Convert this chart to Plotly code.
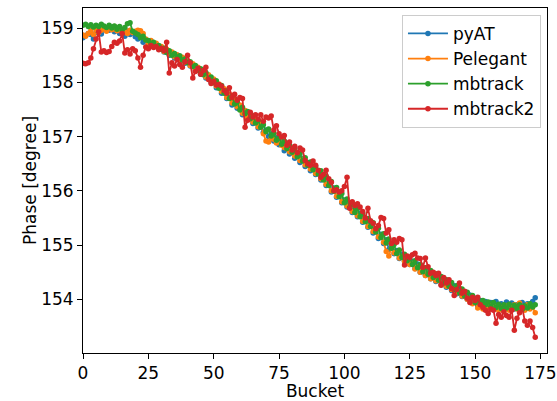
import plotly.graph_objects as go

# phase per bucket (bucket = list index)
pyat = [
    158.82, 158.86, 158.90, 158.88, 158.80, 158.92, 158.95, 158.89, 158.97, 159.00,
    158.96, 159.02, 158.93, 158.99, 158.90, 158.97, 158.85, 158.94, 158.88, 158.91,
    158.84, 158.80, 158.86, 158.74, 158.79, 158.70, 158.75, 158.66, 158.70, 158.61,
    158.64, 158.56, 158.60, 158.50, 158.55, 158.45, 158.50, 158.40, 158.44, 158.35,
    158.37, 158.30, 158.33, 158.22, 158.26, 158.15, 158.19, 158.08, 158.11, 158.00,
    158.02, 157.90, 157.95, 157.80, 157.86, 157.70, 157.76, 157.58, 157.66, 157.52,
    157.55, 157.40, 157.47, 157.32, 157.38, 157.24, 157.30, 157.16, 157.22, 157.08,
    157.12, 157.00, 157.05, 156.92, 156.98, 156.85, 156.90, 156.74, 156.83, 156.68,
    156.74, 156.60, 156.68, 156.52, 156.60, 156.45, 156.52, 156.37, 156.44, 156.30,
    156.35, 156.20, 156.25, 156.10, 156.15, 155.98, 156.05, 155.88, 155.95, 155.78,
    155.83, 155.70, 155.75, 155.60, 155.66, 155.52, 155.58, 155.42, 155.48, 155.33,
    155.39, 155.22, 155.30, 155.12, 155.20, 155.03, 155.10, 154.92, 155.00, 154.84,
    154.90, 154.75, 154.83, 154.70, 154.78, 154.64, 154.70, 154.57, 154.65, 154.50,
    154.57, 154.44, 154.51, 154.38, 154.46, 154.33, 154.41, 154.27, 154.35, 154.22,
    154.31, 154.16, 154.25, 154.10, 154.20, 154.05, 154.14, 154.00, 154.08, 153.95,
    154.02, 153.88, 153.98, 153.86, 153.96, 153.85, 153.94, 153.84, 153.96, 153.86,
    153.92, 153.83, 153.95, 153.85, 153.93, 153.82, 153.90, 153.86, 153.94, 153.88,
    153.92, 153.88, 153.96, 154.03,
]
pelegant = [
    158.87, 158.85, 158.90, 158.95, 158.88, 158.98, 158.92, 158.96, 159.00, 158.94,
    159.02, 158.97, 159.03, 158.95, 159.00, 158.93, 158.98, 158.90, 158.96, 158.92,
    158.94, 158.96, 158.95, 158.90, 158.80, 158.72, 158.77, 158.68, 158.72, 158.63,
    158.66, 158.57, 158.61, 158.52, 158.56, 158.47, 158.51, 158.42, 158.46, 158.37,
    158.39, 158.31, 158.34, 158.24, 158.28, 158.18, 158.21, 158.10, 158.14, 158.03,
    158.06, 157.93, 157.97, 157.83, 157.88, 157.72, 157.78, 157.62, 157.68, 157.55,
    157.58, 157.43, 157.48, 157.35, 157.40, 157.27, 157.32, 157.18, 157.24, 157.05,
    156.92, 156.90, 156.98, 156.95, 156.88, 156.90, 156.84, 156.80, 156.78, 156.72,
    156.70, 156.64, 156.66, 156.56, 156.58, 156.48, 156.50, 156.40, 156.42, 156.32,
    156.33, 156.22, 156.22, 156.12, 156.12, 156.00, 156.02, 155.90, 155.92, 155.80,
    155.80, 155.72, 155.72, 155.62, 155.62, 155.54, 155.54, 155.44, 155.45, 155.34,
    155.36, 155.25, 155.26, 155.15, 155.16, 155.05, 154.88, 154.80, 154.95, 154.86,
    154.86, 154.76, 154.79, 154.70, 154.72, 154.64, 154.66, 154.56, 154.60, 154.50,
    154.53, 154.44, 154.48, 154.38, 154.42, 154.34, 154.37, 154.28, 154.32, 154.24,
    154.26, 154.18, 154.20, 154.12, 154.14, 154.06, 154.08, 154.00, 154.02, 153.92,
    153.96, 153.84, 153.92, 153.82, 153.90, 153.80, 153.88, 153.82, 153.86, 153.80,
    153.85, 153.78, 153.88, 153.80, 153.84, 153.90, 153.82, 153.93, 153.86, 153.80,
    153.90, 153.82, 153.86, 153.75,
]
mbtrack = [
    159.05, 159.07, 159.03, 159.06, 159.02, 159.05, 159.03, 159.07, 159.04, 159.01,
    159.05, 159.00, 159.04, 158.98, 159.03, 158.97, 159.01, 159.08, 159.10, 158.94,
    158.91, 158.88, 158.82, 158.85, 158.78, 158.77, 158.71, 158.74, 158.66, 158.68,
    158.61, 158.63, 158.55, 158.58, 158.50, 158.53, 158.46, 158.49, 158.41, 158.43,
    158.36, 158.38, 158.29, 158.31, 158.22, 158.25, 158.14, 158.18, 158.07, 158.10,
    157.99, 158.03, 157.89, 157.94, 157.80, 157.84, 157.70, 157.74, 157.60, 157.64,
    157.49, 157.54, 157.42, 157.46, 157.33, 157.38, 157.25, 157.30, 157.17, 157.22,
    157.09, 157.14, 157.01, 157.06, 156.93, 156.98, 156.86, 156.92, 156.78, 156.84,
    156.71, 156.77, 156.63, 156.69, 156.55, 156.61, 156.47, 156.53, 156.39, 156.45,
    156.31, 156.37, 156.20, 156.27, 156.10, 156.17, 155.99, 156.06, 155.89, 155.95,
    155.78, 155.85, 155.69, 155.76, 155.60, 155.67, 155.52, 155.58, 155.43, 155.49,
    155.34, 155.41, 155.24, 155.31, 155.14, 155.21, 155.04, 155.11, 154.94, 155.01,
    154.84, 154.91, 154.77, 154.83, 154.71, 154.78, 154.64, 154.71, 154.58, 154.64,
    154.51, 154.58, 154.46, 154.53, 154.40, 154.47, 154.35, 154.42, 154.30, 154.36,
    154.24, 154.31, 154.18, 154.25, 154.12, 154.19, 154.06, 154.13, 154.00, 154.07,
    153.94, 154.00, 153.92, 153.98, 153.90, 153.95, 153.87, 153.94, 153.85, 153.91,
    153.83, 153.90, 153.84, 153.91, 153.82, 153.89, 153.83, 153.90, 153.81, 153.88,
    153.84, 153.92, 153.86, 153.90,
]
mbtrack2 = [
    158.35, 158.34, 158.36, 158.45, 158.62, 158.80, 158.93, 158.56, 158.58, 158.55,
    158.57, 158.66, 158.74, 158.72, 158.76, 158.90, 158.54, 158.60, 158.52, 158.62,
    158.58, 158.45, 158.28, 158.50, 158.65, 158.62, 158.68, 158.64, 158.66, 158.60,
    158.63, 158.58, 158.74, 158.17, 158.36, 158.30, 158.42, 158.33, 158.28, 158.38,
    158.50, 158.36, 158.08, 158.20, 158.26, 158.15, 158.22, 158.28, 158.05, 157.98,
    158.02, 157.95, 157.96, 157.93, 157.85, 157.80, 157.90, 157.72, 157.78, 157.67,
    157.72, 157.70, 157.17, 157.30, 157.45, 157.36, 157.40, 157.32, 157.40, 157.28,
    157.36, 157.34, 157.38, 157.12, 157.20, 157.05, 156.99, 157.02, 156.84, 156.90,
    156.75, 156.82, 156.70, 156.79, 156.75, 156.56, 156.50, 156.47, 156.55, 156.47,
    156.38, 156.25, 156.30, 156.38, 156.22, 156.16, 156.00, 156.02, 155.98, 156.00,
    156.08, 156.25, 155.68, 155.80, 155.73, 155.76, 155.70, 155.62, 155.50, 155.68,
    155.45, 155.40, 155.30, 155.36, 155.51, 155.49, 155.22, 155.28, 155.03, 155.10,
    155.05, 155.12, 155.10, 154.63, 154.80, 154.77, 154.82, 154.85, 154.76, 154.75,
    154.59, 154.76, 154.60, 154.48, 154.50, 154.44, 154.48, 154.26, 154.40, 154.30,
    154.36, 154.20, 154.07, 154.18, 154.30, 154.11, 154.15, 154.02, 153.94, 154.04,
    153.98, 154.04, 153.90, 153.85, 153.80, 153.74, 153.82, 153.80, 153.56, 153.72,
    153.67, 153.77, 153.70, 153.67, 153.80, 153.43, 153.65, 153.75, 153.85, 153.60,
    153.52, 153.60, 153.48, 153.30,
]

series = [
    ("pyAT", pyat, "#1f77b4"),
    ("Pelegant", pelegant, "#ff7f0e"),
    ("mbtrack", mbtrack, "#2ca02c"),
    ("mbtrack2", mbtrack2, "#d62728"),
]

fig = go.Figure()
for name, ys, color in series:
    fig.add_trace(go.Scatter(
        x=list(range(len(ys))), y=ys, name=name, mode="lines+markers",
        line=dict(color=color, width=1.8),
        marker=dict(color=color, size=5.5),
    ))

axis_style = dict(
    showline=True, linecolor="black", linewidth=1, mirror=True,
    ticks="outside", ticklen=5, tickcolor="black", showgrid=False, zeroline=False,
    tickfont=dict(size=17, color="black"), automargin=False,
)
fig.update_xaxes(range=[0, 177.5], tickvals=[0, 25, 50, 75, 100, 125, 150, 175],
                 title=dict(text="Bucket", font=dict(size=17, color="black"), standoff=2),
                 **axis_style)
fig.update_yaxes(range=[153.01, 159.37], tickvals=[154, 155, 156, 157, 158, 159],
                 title=dict(text="Phase [degree]", font=dict(size=17, color="black"), standoff=0),
                 **axis_style)

fig.update_layout(
    width=557, height=401,
    margin=dict(l=83, r=10, t=8, b=48),
    paper_bgcolor="white", plot_bgcolor="white",
    font=dict(family="DejaVu Sans", color="black"),
    legend=dict(x=0.987, y=0.98, xanchor="right", yanchor="top",
                bgcolor="rgba(255,255,255,0.8)", bordercolor="#cccccc", borderwidth=1,
                font=dict(size=17), itemwidth=40, tracegroupgap=2),
)

# drop the browser's default 8px body margin so the figure fills the window
fig.write_html("out.html", config={"displayModeBar": False},
               post_script="document.body.style.margin = '0';")
